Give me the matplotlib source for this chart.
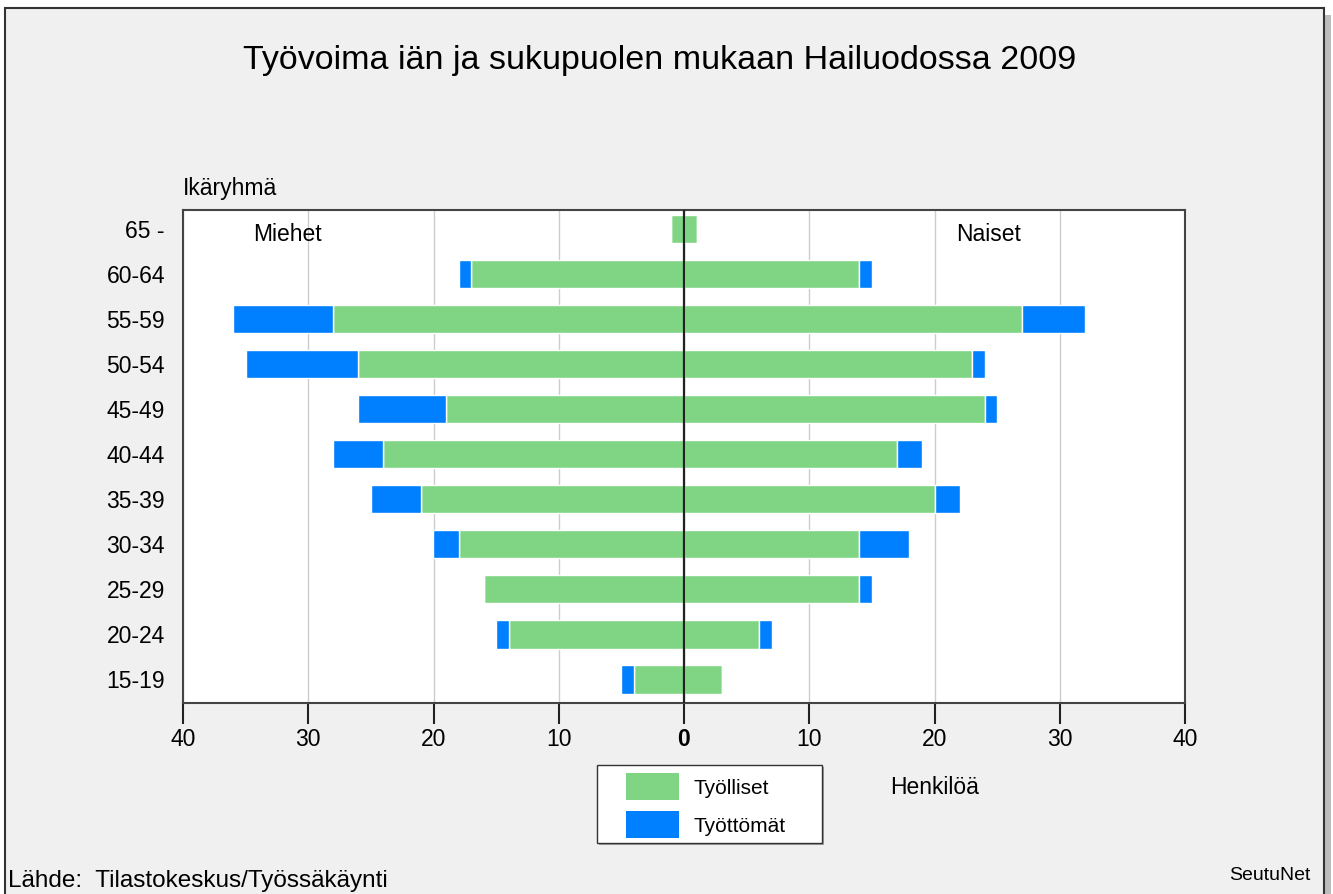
import matplotlib
matplotlib.use("Agg")
import matplotlib.pyplot as plt
from matplotlib.patches import Rectangle
import numpy as np

plt.rcParams['font.family'] = ['Liberation Sans', 'DejaVu Sans']

# age groups, bottom to top
groups = ['15-19', '20-24', '25-29', '30-34', '35-39', '40-44',
          '45-49', '50-54', '55-59', '60-64', '65 -']
men_emp = [4, 14, 16, 18, 21, 24, 19, 26, 28, 17, 1]
men_unemp = [1, 1, 0, 2, 4, 4, 7, 9, 8, 1, 0]
women_emp = [3, 6, 14, 14, 20, 17, 24, 23, 27, 14, 1]
women_unemp = [0, 1, 1, 4, 2, 2, 1, 1, 5, 1, 0]
xticks = [-40, -30, -20, -10, 0, 10, 20, 30, 40]
series = ['Työlliset', 'Työttömät']

green = '#7FD584'
blue = '#0080FF'
bg = '#F0F0F0'

W, H = 1333, 894
fig = plt.figure(figsize=(W / 100, H / 100), dpi=100, facecolor='white')

# background axes in pixel coords (y from top) for frame and legend box
bax = fig.add_axes([0, 0, 1, 1], zorder=-10)
bax.set_xlim(0, W)
bax.set_ylim(H, 0)
bax.axis('off')


def brect(x0, y0, x1, y1, **kw):
    bax.add_patch(Rectangle((x0, y0), x1 - x0, y1 - y0, **kw))


brect(1324, 15, 1331, 900, facecolor='#BDBDBD', edgecolor='none', clip_on=False)
brect(5, 8, 1324, 900, facecolor=bg, edgecolor='#333333', lw=1.5, clip_on=False)

ax = fig.add_axes([183 / W, 1 - 703 / H, (1185 - 183) / W, (703 - 210) / H])
ax.set_facecolor('white')

y = np.arange(len(groups))
me = np.array(men_emp)
mu = np.array(men_unemp)
we = np.array(women_emp)
wu = np.array(women_unemp)
h = 0.64
ax.barh(y, -me, height=h, color=green, edgecolor='white', lw=1, zorder=2)
ax.barh(y, -mu, left=-me, height=h, color=blue, edgecolor='white', lw=1, zorder=2)
ax.barh(y, we, height=h, color=green, edgecolor='white', lw=1, zorder=2)
ax.barh(y, wu, left=we, height=h, color=blue, edgecolor='white', lw=1, zorder=2)

ax.set_xlim(-40, 40)
ax.set_ylim(-0.53, 10.42)
ax.axvline(0, color='#222222', lw=1.6, zorder=3)

ax.set_xticks(xticks)
ax.set_xticklabels([str(abs(v)) for v in xticks], fontsize=16.5)
for lab in ax.get_xticklabels():
    if lab.get_text() == '0':
        lab.set_fontweight('bold')
ax.set_yticks(y)
ax.set_yticklabels(groups, fontsize=16.5)
ax.tick_params(axis='y', length=0, pad=13)
ax.tick_params(axis='x', direction='out', length=15, width=1.5,
               color='#222222', pad=3)
ax.grid(axis='x', color='#CCCCCC', lw=1)
ax.set_axisbelow(True)
for s in ax.spines.values():
    s.set_color('#444444')
    s.set_linewidth(1.5)

ax.text(0.07, 0.95, 'Miehet', transform=ax.transAxes, fontsize=16.5,
        va='center', ha='left')
ax.text(0.772, 0.95, 'Naiset', transform=ax.transAxes, fontsize=16.5,
        va='center', ha='left')

fig.text(0.495, 1 - 60 / H, 'Työvoima iän ja sukupuolen mukaan Hailuodossa 2009',
         ha='center', va='center', fontsize=24.5)
fig.text(183 / W, 1 - 188 / H, 'Ikäryhmä', ha='left', va='center', fontsize=16.5)
fig.text(890 / W, 1 - 787 / H, 'Henkilöä', ha='left', va='center', fontsize=16.5)
fig.text(8 / W, 1 - 881 / H, 'Lähde:  Tilastokeskus/Työssäkäynti', ha='left',
         va='center', fontsize=17.5)
fig.text(1311 / W, 1 - 875 / H, 'SeutuNet', ha='right', va='center', fontsize=14)

# legend box
brect(599, 767, 824, 845, facecolor='#A0A0A0', edgecolor='none')
brect(597, 765, 822, 843, facecolor='white', edgecolor='#333333', lw=1)
for i, (name, col) in enumerate(zip(series, [green, blue])):
    y0 = 773 + 38 * i
    brect(626, y0, 679, y0 + 27, facecolor=col, edgecolor='none')
    bax.text(693, y0 + 15, name, ha='left', va='center', fontsize=15)

fig.savefig('out.png', dpi=100)
